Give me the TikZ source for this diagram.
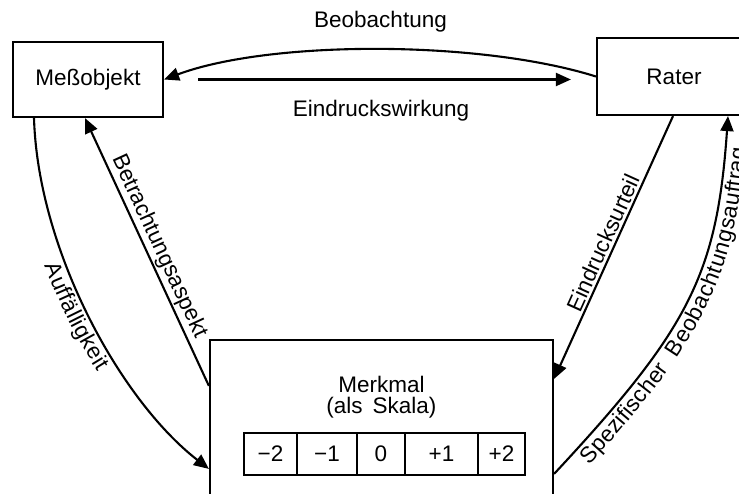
\documentclass[tikz,border=0pt]{standalone}
\usepackage{fontspec}
\setmainfont{Liberation Sans}
\usetikzlibrary{arrows.meta,decorations.text}
\newcommand{\labfont}{\fontsize{22.5}{27}\selectfont}
\begin{document}
\begin{tikzpicture}[x=1pt,y=1pt,
  box/.style={draw, line width=2.2pt, inner sep=0pt, font=\labfont},
  cell/.style={draw, line width=1.8pt, inner sep=0pt, minimum height=42pt, font=\labfont},
  lab/.style={font=\labfont, inner sep=2pt},
  arr/.style={line width=2.1pt, -{Triangle[length=15pt,width=13pt]}},
  line/.style={line width=2.1pt}]
\useasboundingbox (0,0) rectangle (739,493);
\clip (0,0) rectangle (739,493);
% boxes
\node[box, minimum width=150pt, minimum height=75pt] (mess) at (88,413.5) {Meßobjekt};
\node[box, minimum width=154pt, minimum height=77pt] (rater) at (674,416.5) {Rater};
\node[box, minimum width=343pt, minimum height=173pt] (merk) at (381.5,66.5) {};
\node[lab, anchor=base] (merk1) at (381.5,101) {Merkmal};
\node[lab, anchor=base] (merk2) at (381.5,80) {(als\, Skala)};
% scale
\node[cell, minimum width=53pt] (c1) at (270.5,39) {−2};
\node[cell, minimum width=60pt] (c2) at (327,39) {−1};
\node[cell, minimum width=48pt] (c3) at (381,39) {0};
\node[cell, minimum width=73pt] (c4) at (441.5,39) {+1};
\node[cell, minimum width=47pt] (c5) at (501.5,39) {+2};
% top connectors
\draw[arr] (rater.west) .. controls (480,453) and (270,453) .. (mess.east);
\node[lab, anchor=base] (beob) at (380.5,465) {Beobachtung};
\coordinate (ew1) at ([xshift=34pt]mess.east);
\coordinate (ew2) at ([xshift=-25pt]rater.west |- ew1);
\draw[arr] (ew1) -- (ew2);
\node[lab, anchor=base] (eindr) at (381,376) {Eindruckswirkung};
% left connectors
\draw[arr] ([yshift=-47pt]merk.north west) -- node[midway, sloped, above, lab] {Betrachtungsaspekt} ([xshift=-3pt]mess.south);
\draw[arr, postaction={decorate, decoration={text along path, text={|\labfont|Auffälligkeit}, text align=center, raise=-20pt}}]
  ([xshift=-54pt]mess.south) .. controls (38,243) and (120,93) .. ([yshift=-130pt]merk.north west);
% right connectors
\draw[arr] ([xshift=-1pt]rater.south) -- node[midway, sloped, above, lab] {Eindrucksurteil} ([yshift=-40pt]merk.north east);
\draw[arr, postaction={decorate, decoration={text along path, text={|\labfont|Spezifischer\ \ Beobachtungsauftrag}, text align=center, raise=-20pt}}]
  ([yshift=-135pt]merk.north east) .. controls (689,164) and (717,218) .. ([xshift=54pt]rater.south);
\end{tikzpicture}
\end{document}
